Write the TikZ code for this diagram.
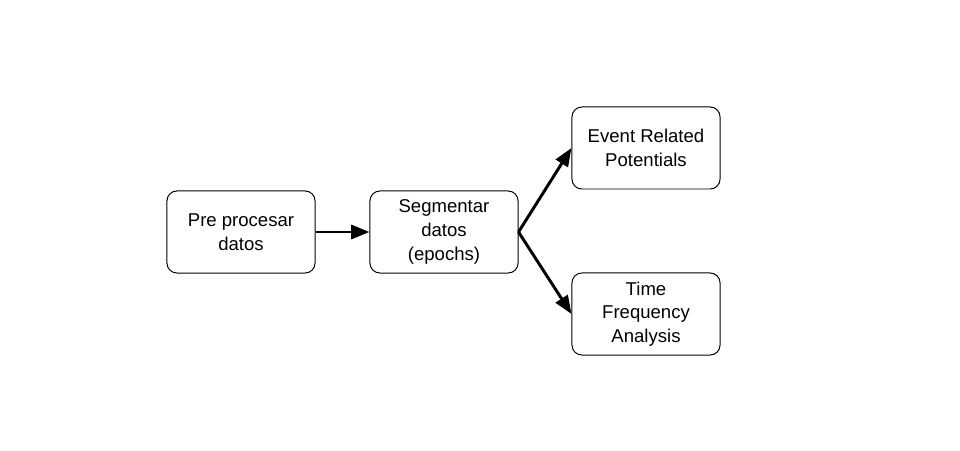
\documentclass[tikz,border=0pt]{standalone}
\usepackage{fontspec}
\setmainfont{Liberation Sans}
\usepackage{tikz}
\usetikzlibrary{arrows.meta}
\tikzset{>={Triangle[length=13pt,width=10pt]}}
\tikzset{stepbox/.style={draw, rounded corners=7pt, line width=0.7pt, minimum width=3.7cm, minimum height=2.05cm, inner sep=0pt, align=center, font=\fontsize{13.2}{16.8}\selectfont}}

\begin{document}
\begin{tikzpicture}[x=0.025cm, y=-0.025cm]
    \useasboundingbox (0, 0) rectangle (960, 451);
    \node[stepbox] (pre) at (241, 232) {Pre procesar\\datos};
    \node[stepbox] (seg) at (444, 232) {Segmentar\\datos\\(epochs)};
    \node[stepbox] (erp) at (646, 148) {Event Related\\Potentials};
    \node[stepbox] (tfa) at (646, 314) {Time\\Frequency\\Analysis};
    \draw[->, line width=2.1pt](pre.east)--(seg.west);
    \draw[->, line width=2.1pt](seg.east)--(erp.west);
    \draw[->, line width=2.1pt](seg.east)--(tfa.west);
\end{tikzpicture}
\end{document}
